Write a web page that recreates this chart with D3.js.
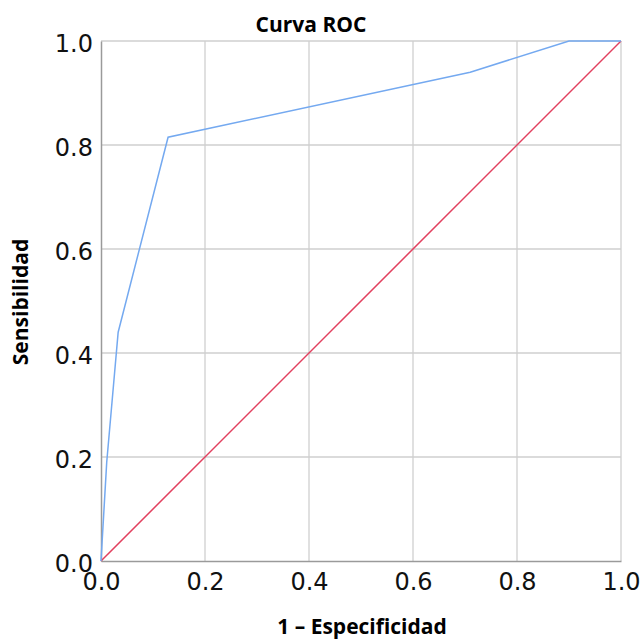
<html>
<head>
<meta charset="utf-8">
<script src="https://d3js.org/d3.v7.min.js"></script>
<style>
body { margin: 0; background: white; }
</style>
</head>
<body>
<div id="plot"></div>
<script type="text/javascript">
// ROC curve points (1 - especificidad, sensibilidad)
var fpr = [0, 0.011, 0.033, 0.129, 0.71, 0.90, 1.0];
var tpr = [0, 0.19, 0.44, 0.815, 0.94, 1.0, 1.0];
// reference line
var refX = [0, 1];
var refY = [0, 1];
var ticks = [0, 0.2, 0.4, 0.6, 0.8, 1.0];

var margin = {top: 41, bottom: 78, right: 21, left: 101};
var width = 642 - margin.left - margin.right;
var height = 639 - margin.top - margin.bottom;

var svg = d3.select("#plot")
  .append("svg")
  .attr("width", 642)
  .attr("height", 639)
  .style("background-color", "white");

var g = svg.append("g")
  .attr("transform", "translate(" + margin.left + "," + margin.top + ")");

var x = d3.scaleLinear().domain([0, 1]).range([0, width]);
var y = d3.scaleLinear().domain([0, 1]).range([height, 0]);

// grid
g.selectAll(".vgrid").data(ticks.slice(1)).enter().append("line")
  .attr("x1", d => x(d)).attr("x2", d => x(d))
  .attr("y1", 0).attr("y2", height)
  .style("stroke", "#cfcfcf").style("stroke-width", 1.3);
g.selectAll(".hgrid").data(ticks.slice(1)).enter().append("line")
  .attr("x1", 0).attr("x2", width)
  .attr("y1", d => y(d)).attr("y2", d => y(d))
  .style("stroke", "#cfcfcf").style("stroke-width", 1.3);

// axes
var xAxis = g.append("g")
  .attr("transform", "translate(0," + height + ")")
  .call(d3.axisBottom(x).tickValues(ticks).tickFormat(d3.format(".1f")).tickSize(0).tickPadding(12));
var yAxis = g.append("g")
  .call(d3.axisLeft(y).tickValues(ticks).tickFormat(d3.format(".1f")).tickSize(0).tickPadding(8));

[xAxis, yAxis].forEach(function(a){
  a.select(".domain").style("stroke", "#9a9a9a").style("stroke-width", 1.5);
  a.selectAll("text")
    .style("font-family", "DejaVu Sans")
    .style("font-size", "24px")
    .style("fill", "#111");
});
yAxis.selectAll("text").attr("dy", "0.42em");

// lines
var line = d3.line().x(d => x(d[0])).y(d => y(d[1]));

g.append("path")
  .datum(refX.map((v, i) => [v, refY[i]]))
  .attr("d", line)
  .style("fill", "none")
  .style("stroke", "#e2405f")
  .style("stroke-width", 1.5);

g.append("path")
  .datum(fpr.map((v, i) => [v, tpr[i]]))
  .attr("d", line)
  .style("fill", "none")
  .style("stroke", "#74a9f0")
  .style("stroke-width", 1.5);

// titles
svg.append("text")
  .attr("x", 311).attr("y", 32)
  .attr("text-anchor", "middle")
  .style("font-family", "Open Sans")
  .style("font-weight", "bold")
  .style("font-size", "21px")
  .text("Curva ROC");

svg.append("text")
  .attr("x", 362).attr("y", 634)
  .attr("text-anchor", "middle")
  .style("font-family", "Open Sans")
  .style("font-weight", "bold")
  .style("font-size", "21px")
  .text("1 – Especificidad");

svg.append("text")
  .attr("transform", "translate(28,302) rotate(-90)")
  .attr("text-anchor", "middle")
  .style("font-family", "Open Sans")
  .style("font-weight", "bold")
  .style("font-size", "21px")
  .text("Sensibilidad");
</script>
</body>
</html>
